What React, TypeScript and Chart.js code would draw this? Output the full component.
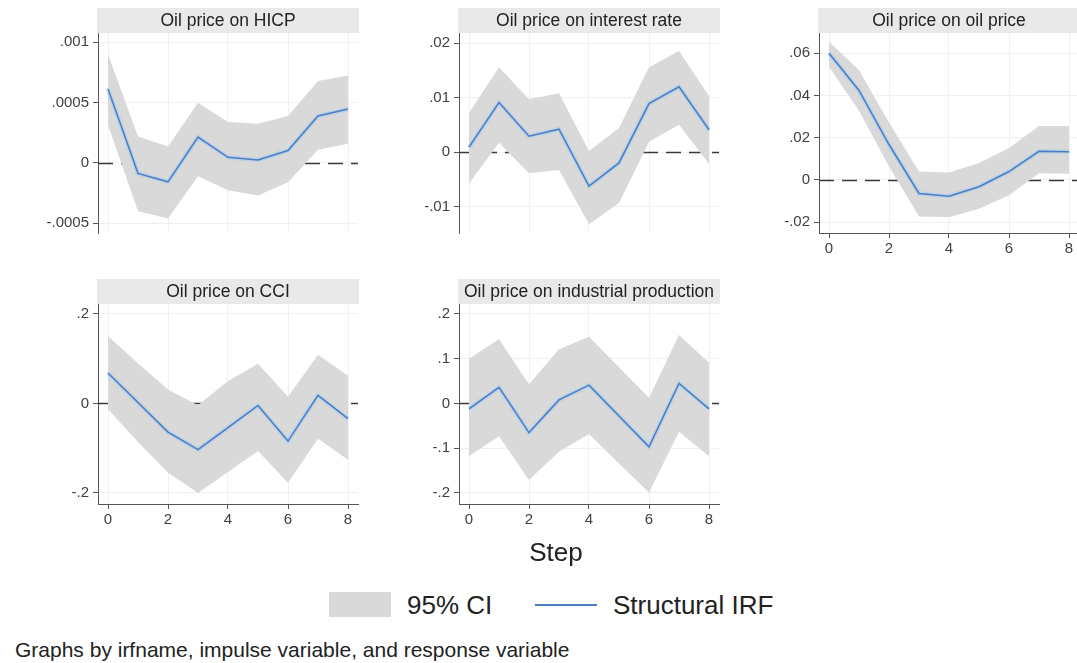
import React, { useEffect, useRef } from 'react';
import { Chart, registerables } from 'chart.js';

Chart.register(...registerables);

// ---------- data ----------
const STEPS = [0, 1, 2, 3, 4, 5, 6, 7, 8];
const X_TICKS = [0, 2, 4, 6, 8];

const HICP_IRF = [0.000614, -0.000086, -0.000156, 0.000214, 0.000047, 0.000025, 0.000103, 0.00039, 0.000447];
const HICP_HI = [0.0009, 0.00022, 0.000136, 0.0005, 0.00034, 0.000325, 0.00039, 0.00068, 0.000725];
const HICP_LO = [0.000317, -0.0004, -0.00046, -0.00011, -0.000225, -0.00027, -0.00016, 0.00011, 0.00016];
const HICP_YTICKS = [-0.0005, 0, 0.0005, 0.001];
const HICP_YLABELS = ['-.0005', '0', '.0005', '.001'];

const RATE_IRF = [0.0009, 0.0091, 0.0029, 0.0042, -0.00625, -0.002, 0.0089, 0.012, 0.0041];
const RATE_HI = [0.0072, 0.0156, 0.0097, 0.0108, 0.0002, 0.0044, 0.0156, 0.0186, 0.0103];
const RATE_LO = [-0.0058, 0.0017, -0.0039, -0.0033, -0.0133, -0.0094, 0.0019, 0.005, -0.0022];
const RATE_YTICKS = [-0.01, 0, 0.01, 0.02];
const RATE_YLABELS = ['-.01', '0', '.01', '.02'];

const OIL_IRF = [0.06, 0.0424, 0.0168, -0.0064, -0.0077, -0.0032, 0.004, 0.0136, 0.0134];
const OIL_HI = [0.0656, 0.052, 0.0272, 0.004, 0.0035, 0.008, 0.0152, 0.0256, 0.0256];
const OIL_LO = [0.0536, 0.0328, 0.0064, -0.0173, -0.0176, -0.0136, -0.0072, 0.0032, 0.0029];
const OIL_YTICKS = [-0.02, 0, 0.02, 0.04, 0.06];
const OIL_YLABELS = ['-.02', '0', '.02', '.04', '.06'];

const CCI_IRF = [0.068, 0.002, -0.064, -0.103, -0.054, -0.0045, -0.084, 0.018, -0.034];
const CCI_HI = [0.15, 0.09, 0.031, -0.004, 0.05, 0.089, 0.015, 0.109, 0.062];
const CCI_LO = [-0.013, -0.086, -0.155, -0.2, -0.153, -0.106, -0.177, -0.079, -0.126];
const CCI_YTICKS = [-0.2, 0, 0.2];
const CCI_YLABELS = ['-.2', '0', '.2'];

const IP_IRF = [-0.012, 0.036, -0.065, 0.008, 0.041, -0.028, -0.097, 0.045, -0.012];
const IP_HI = [0.1, 0.144, 0.043, 0.121, 0.149, 0.081, 0.013, 0.153, 0.091];
const IP_LO = [-0.118, -0.073, -0.171, -0.108, -0.068, -0.134, -0.199, -0.063, -0.118];
const IP_YTICKS = [-0.2, -0.1, 0, 0.1, 0.2];
const IP_YLABELS = ['-.2', '-.1', '0', '.1', '.2'];

const TITLES = [
  'Oil price on HICP',
  'Oil price on interest rate',
  'Oil price on oil price',
  'Oil price on CCI',
  'Oil price on industrial production',
];
const LEGEND_LABELS = ['95% CI', 'Structural IRF'];
const X_TITLE = 'Step';
const NOTE = 'Graphs by irfname, impulse variable, and response variable';

// ---------- styles ----------
const FONT = '"Liberation Sans", Arial, Helvetica, sans-serif';
const BAND = '#d9d9d9';
const LINE = '#4a7ebf';
const GLOW = 'rgba(165,200,240,0.55)';
const AXIS = '#555555';
const GRID = '#f0f0f0';
const TICK_TEXT = '#404040';
const STRIP = '#e9e9e9';

const CW = 365;
const CH = 263;

type PanelCfg = {
  title: string;
  irf: number[];
  hi: number[];
  lo: number[];
  yTicks: number[];
  yLabels: string[];
  yMin: number;
  yMax: number;
  showX: boolean;
  left: number;
  top: number;
};

const PANELS: PanelCfg[] = [
  { title: TITLES[0], irf: HICP_IRF, hi: HICP_HI, lo: HICP_LO, yTicks: HICP_YTICKS, yLabels: HICP_YLABELS, yMin: -0.00058, yMax: 0.001077, showX: false, left: 0, top: 0 },
  { title: TITLES[1], irf: RATE_IRF, hi: RATE_HI, lo: RATE_LO, yTicks: RATE_YTICKS, yLabels: RATE_YLABELS, yMin: -0.0149, yMax: 0.0219, showX: false, left: 361, top: 0 },
  { title: TITLES[2], irf: OIL_IRF, hi: OIL_HI, lo: OIL_LO, yTicks: OIL_YTICKS, yLabels: OIL_YLABELS, yMin: -0.0251, yMax: 0.0696, showX: true, left: 721, top: 0 },
  { title: TITLES[3], irf: CCI_IRF, hi: CCI_HI, lo: CCI_LO, yTicks: CCI_YTICKS, yLabels: CCI_YLABELS, yMin: -0.2246, yMax: 0.2223, showX: true, left: 0, top: 271 },
  { title: TITLES[4], irf: IP_IRF, hi: IP_HI, lo: IP_LO, yTicks: IP_YTICKS, yLabels: IP_YLABELS, yMin: -0.2246, yMax: 0.2223, showX: true, left: 361, top: 271 },
];

const zeroLinePlugin = {
  id: 'zeroLine',
  beforeDatasetsDraw(chart: any) {
    const { ctx, chartArea, scales } = chart;
    const y = Math.round(scales.y.getPixelForValue(0)) + 0.5;
    ctx.save();
    ctx.beginPath();
    ctx.setLineDash([15, 8]);
    ctx.strokeStyle = '#3a3a3a';
    ctx.lineWidth = 1.3;
    ctx.moveTo(chartArea.left, y);
    ctx.lineTo(chartArea.right, y);
    ctx.stroke();
    ctx.restore();
  },
};

const stripPlugin = {
  id: 'strip',
  beforeDraw(chart: any, _args: any, opts: any) {
    const { ctx, chartArea } = chart;
    const h = 25;
    ctx.save();
    ctx.fillStyle = STRIP;
    ctx.fillRect(chartArea.left - 1, chartArea.top - h, chartArea.right - chartArea.left + 2, h);
    ctx.fillStyle = '#222222';
    ctx.font = `17.5px ${FONT}`;
    ctx.textAlign = 'center';
    ctx.textBaseline = 'middle';
    ctx.fillText(opts.text, (chartArea.left + chartArea.right) / 2, chartArea.top - h / 2 + 0.5);
    ctx.restore();
  },
};

function Panel({ cfg }: { cfg: PanelCfg }) {
  const ref = useRef<HTMLCanvasElement>(null);
  useEffect(() => {
    const pts = (ys: number[]) => STEPS.map((s, i) => ({ x: s, y: ys[i] }));
    const tickFont = { family: FONT, size: 15 };
    const chart = new Chart(ref.current as HTMLCanvasElement, {
      type: 'line',
      data: {
        datasets: [
          { label: LEGEND_LABELS[1], data: pts(cfg.irf), borderColor: LINE, borderWidth: 1.5, pointRadius: 0, fill: false, tension: 0, order: 0 },
          { label: 'glow', data: pts(cfg.irf), borderColor: GLOW, borderWidth: 4.5, pointRadius: 0, fill: false, tension: 0, order: 1 },
          { label: LEGEND_LABELS[0], data: pts(cfg.hi), borderColor: 'rgba(0,0,0,0)', borderWidth: 0, backgroundColor: BAND, pointRadius: 0, fill: '+1', tension: 0, order: 2 },
          { label: 'lower', data: pts(cfg.lo), borderColor: 'rgba(0,0,0,0)', borderWidth: 0, pointRadius: 0, fill: false, tension: 0, order: 3 },
        ],
      } as any,
      options: {
        animation: false,
        responsive: false,
        maintainAspectRatio: false,
        devicePixelRatio: 1,
        layout: { padding: { top: 33, right: 7, left: 0, bottom: 0 }, autoPadding: false } as any,
        plugins: {
          legend: { display: false },
          tooltip: { enabled: false },
          title: { display: false },
          strip: { text: cfg.title },
        } as any,
        scales: {
          x: {
            type: 'linear',
            min: -1 / 3,
            max: 8 + 1 / 3,
            afterBuildTicks: (s: any) => { s.ticks = X_TICKS.map((v) => ({ value: v })); },
            afterFit: (s: any) => { s.height = 30; },
            grid: { color: GRID, drawTicks: cfg.showX, tickLength: 5, tickColor: AXIS, lineWidth: 1 },
            border: { display: cfg.showX, color: AXIS, width: 1 },
            ticks: { display: cfg.showX, padding: 2, font: tickFont, color: TICK_TEXT, maxRotation: 0, autoSkip: false, callback: (v: any) => String(v) },
          },
          y: {
            type: 'linear',
            min: cfg.yMin,
            max: cfg.yMax,
            afterBuildTicks: (s: any) => { s.ticks = cfg.yTicks.map((v) => ({ value: v })); },
            afterFit: (s: any) => { s.width = 98; },
            grid: { color: GRID, drawTicks: true, tickLength: 5, tickColor: AXIS, lineWidth: 1 },
            border: { display: true, color: AXIS, width: 1 },
            ticks: {
              padding: 4,
              font: tickFont,
              color: TICK_TEXT,
              autoSkip: false,
              callback: (v: any) => {
                const i = cfg.yTicks.findIndex((t) => Math.abs(t - v) < 1e-12);
                return i >= 0 ? cfg.yLabels[i] : '';
              },
            },
          },
        } as any,
      },
      plugins: [zeroLinePlugin, stripPlugin],
    });
    return () => chart.destroy();
  }, [cfg]);
  return (
    <canvas
      ref={ref}
      width={CW}
      height={CH}
      style={{ position: 'absolute', left: cfg.left, top: cfg.top, width: CW, height: CH }}
    />
  );
}

export default function App() {
  const text = (left: number, cy: number, size: number, content: string, extra: any = {}) => (
    <div
      style={{
        position: 'absolute',
        left,
        top: cy - size / 2,
        height: size,
        lineHeight: `${size}px`,
        fontSize: size,
        fontFamily: FONT,
        color: '#222',
        whiteSpace: 'nowrap',
        ...extra,
      }}
    >
      {content}
    </div>
  );
  return (
    <div style={{ position: 'fixed', left: 0, top: 0, width: 1077, height: 663, background: '#fff', overflow: 'hidden' }}>
      {PANELS.map((p, i) => (
        <Panel key={i} cfg={p} />
      ))}
      {text(456, 552, 26, X_TITLE, { width: 200, textAlign: 'center' })}
      <div style={{ position: 'absolute', left: 329, top: 592, width: 62, height: 25, background: BAND }} />
      {text(407, 605, 26, LEGEND_LABELS[0])}
      <div style={{ position: 'absolute', left: 535, top: 604, width: 62, height: 2, background: LINE }} />
      {text(613, 605, 26, LEGEND_LABELS[1])}
      {text(15, 649.5, 21, NOTE)}
    </div>
  );
}
